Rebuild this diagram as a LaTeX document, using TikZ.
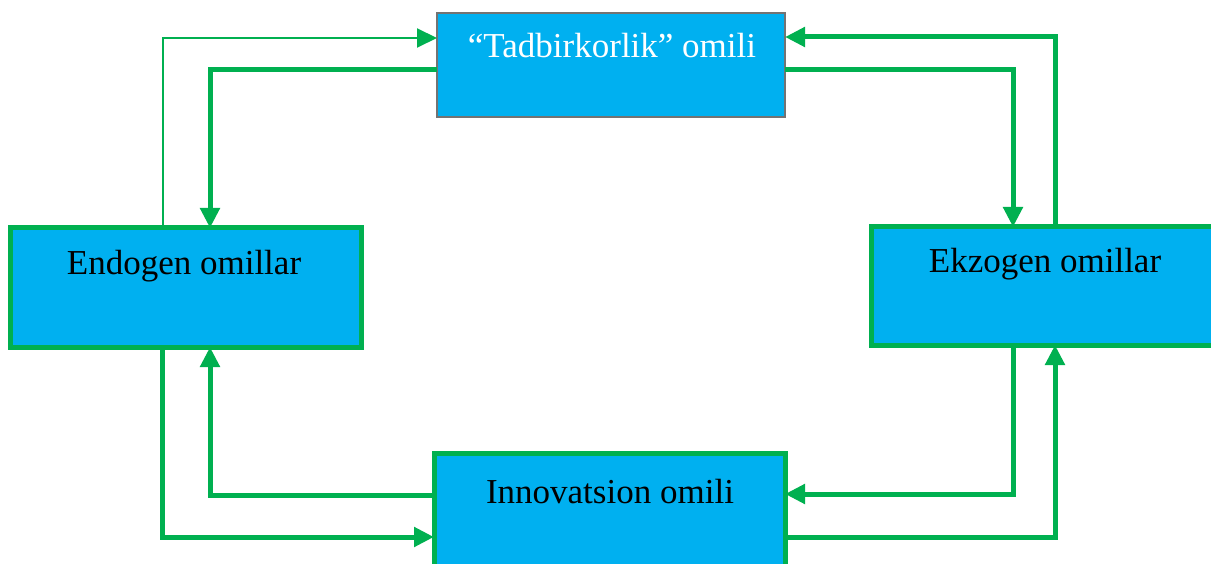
\documentclass[tikz,border=0pt]{standalone}
\usepackage{fontspec}
\setmainfont{Liberation Serif}
\usetikzlibrary{arrows.meta}
\definecolor{gr}{HTML}{00B050}
\definecolor{bl}{HTML}{00B0F0}
\begin{document}
\begin{tikzpicture}[x=1pt,y=-1pt,
  box/.style={draw=gr,fill=bl,line width=5pt,inner sep=0pt,outer sep=0pt},
  tbox/.style={draw=black!55,fill=bl,line width=2pt,inner sep=0pt,outer sep=0pt},
  lbl/.style={font=\fontsize{35}{40}\selectfont,inner sep=0pt},
  conn/.style={draw=gr,line width=5pt,-{Triangle[length=20pt,width=19pt]}},
  thinconn/.style={draw=gr,line width=2pt,-{Triangle[length=20pt,width=19pt]}}]
\useasboundingbox (0,0) rectangle (1211,564);
\node[tbox,minimum width=348,minimum height=104] (tad) at (611,65) {};
\node[box,minimum width=351,minimum height=119] (endo) at (185.5,287.5) {};
\node[box,minimum width=344,minimum height=118] (ekzo) at (1043,286) {};
\node[box,minimum width=351,minimum height=117] (inno) at (609.5,511.5) {};
\node[lbl,text=white] (tadt) at (612,46) {“Tadbirkorlik” omili};
\node[lbl] (endot) at (184,266) {Endogen omillar};
\node[lbl] (ekzot) at (1045,264) {Ekzogen omillar};
\node[lbl] (innot) at (610,492) {Innovatsion omili};
% top left
\draw[thinconn] (163,0 |- endo.north) -- (163,38) -- (tad.west |- 0,38);
\draw[conn] (tad.west |- 0,70) -- (210,70) -- (210,0 |- endo.north);
% top right
\draw[conn] (1055,0 |- ekzo.north) -- (1055,37) -- (tad.east |- 0,37);
\draw[conn] (tad.east |- 0,70) -- (1013,70) -- (1013,0 |- ekzo.north);
% bottom left
\draw[conn] (162,0 |- endo.south) -- (162,537) -- (inno.west |- 0,537);
\draw[conn] (inno.west |- 0,495) -- (210,495) -- (210,0 |- endo.south);
% bottom right
\draw[conn] (1013,0 |- ekzo.south) -- (1013,494) -- (inno.east |- 0,494);
\draw[conn] (inno.east |- 0,537) -- (1055,537) -- (1055,0 |- ekzo.south);
\end{tikzpicture}
\end{document}
